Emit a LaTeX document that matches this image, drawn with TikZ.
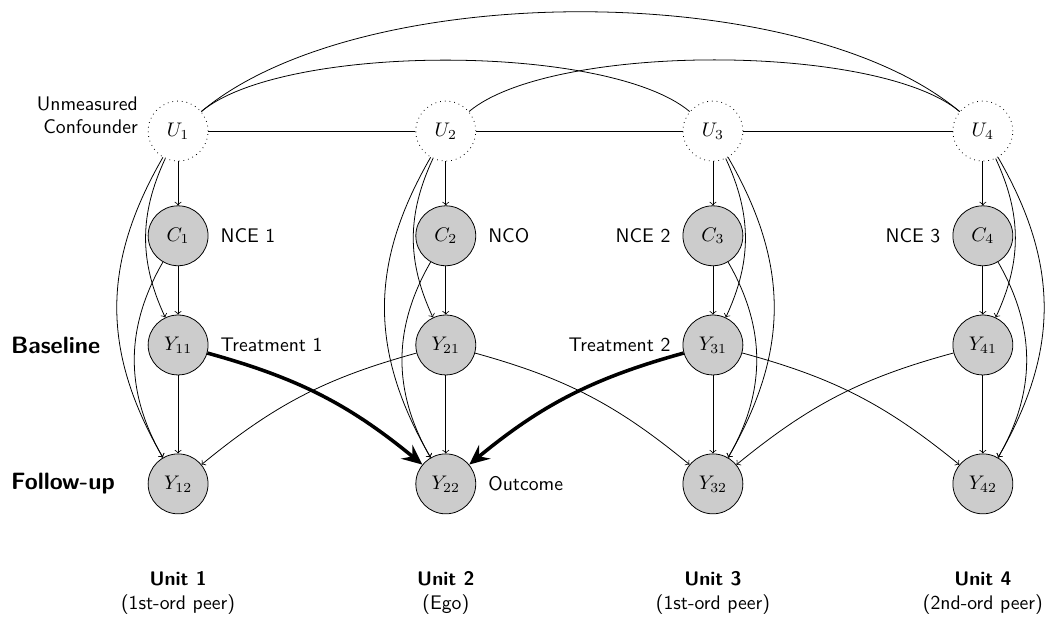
\documentclass[tikz,border=0pt]{standalone}
\usetikzlibrary{positioning, arrows.meta}
\renewcommand{\familydefault}{\sfdefault}
\begin{document}
\begin{tikzpicture}[>=to, every node/.style = {inner sep = 2pt}, latent/.style = {circle, draw, dotted, fill = white, minimum size = 1.07cm, inner sep = 0pt}, obs/.style = {circle, draw, fill = gray!40, minimum size = 1.07cm, inner sep = 0pt}, rowlabel/.style = {font = \large\bfseries, anchor = west}, unitlabel/.style = {align = center}, effect/.style = {-{Stealth[length = 3.6mm, width = 3.2mm, inset = 1.3mm]}, line width = 1.8pt}]
        \useasboundingbox (0,0) rectangle (18.66,-11.34);
        \foreach \i/\x in {1/3.18, 2/7.96, 3/12.73, 4/17.55} {
            \node[latent] (U\i) at (\x,-2.34) {$U_\i$};
            \node[obs] (C\i) at (\x,-4.21) {$C_\i$};
            \node[obs] (Y\i1) at (\x,-6.16) {$Y_{\i1}$};
            \node[obs] (Y\i2) at (\x,-8.64) {$Y_{\i2}$};
            \draw[->] (U\i) -- (C\i);
            \draw[->] (C\i) -- (Y\i1);
            \draw[->] (Y\i1) -- (Y\i2);
        }
        \foreach \i in {1,2} {
            \draw[->] (U\i) to[bend right = 25] (Y\i1);
            \draw[->] (U\i) to[bend right = 30, looseness = 1.05] (Y\i2);
            \draw[->] (C\i) to[bend right = 30] (Y\i2);
        }
        \foreach \i in {3,4} {
            \draw[->] (U\i) to[bend left = 25] (Y\i1);
            \draw[->] (U\i) to[bend left = 30, looseness = 1.05] (Y\i2);
            \draw[->] (C\i) to[bend left = 30] (Y\i2);
        }
        \draw (U1) -- (U2);
        \draw (U2) -- (U3);
        \draw (U3) -- (U4);
        \draw (U1) to[bend left = 40, looseness = 0.56] (U3);
        \draw (U2) to[bend left = 40, looseness = 0.56] (U4);
        \draw (U1) to[bend left = 40, looseness = 0.7] (U4);
        \draw[effect] (Y11) to[bend left = 12] (Y22);
        \draw[effect] (Y31) to[bend right = 12] (Y22);
        \draw[->] (Y21) to[bend right = 12] (Y12);
        \draw[->] (Y21) to[bend left = 12] (Y32);
        \draw[->] (Y31) to[bend left = 12] (Y42);
        \draw[->] (Y41) to[bend right = 12] (Y32);
        \node[left = 0.1cm of U1, yshift = 0.28cm, align = right] (confounder) {Unmeasured\\Confounder};
        \node[right = 0.14cm of C1] (nce1) {NCE 1};
        \node[right = 0.14cm of C2] (nco) {NCO};
        \node[left = 0.14cm of C3] (nce2) {NCE 2};
        \node[left = 0.14cm of C4] (nce3) {NCE 3};
        \node[right = 0.14cm of Y11] (treat1) {Treatment 1};
        \node[left = 0.14cm of Y31] (treat2) {Treatment 2};
        \node[right = 0.14cm of Y22] (outcome) {Outcome};
        \node[rowlabel] (baseline) at (0.12,-6.16) {Baseline};
        \node[rowlabel] (followup) at (0.12,-8.64) {Follow-up};
        \node[unitlabel] (unit1) at (3.18,-10.59) {\textbf{Unit 1}\\(1st-ord peer)};
        \node[unitlabel] (unit2) at (7.96,-10.59) {\textbf{Unit 2}\\(Ego)};
        \node[unitlabel] (unit3) at (12.73,-10.59) {\textbf{Unit 3}\\(1st-ord peer)};
        \node[unitlabel] (unit4) at (17.55,-10.59) {\textbf{Unit 4}\\(2nd-ord peer)};
    \end{tikzpicture}
\end{document}
